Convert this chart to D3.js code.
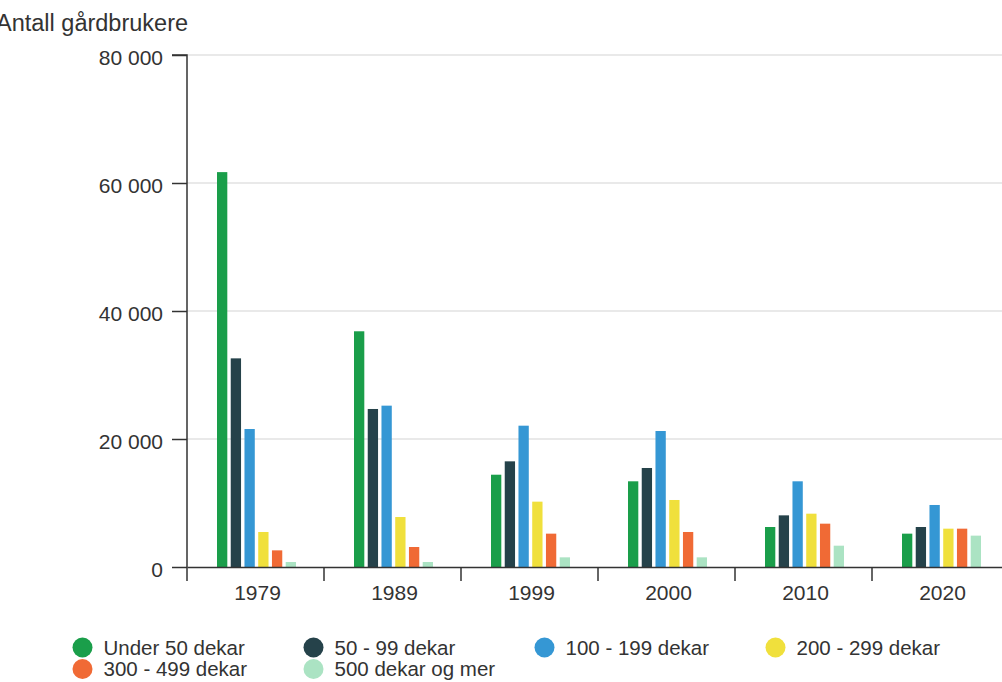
<!DOCTYPE html>
<html><head><meta charset="utf-8">
<script src="https://cdn.jsdelivr.net/npm/d3@7"></script>
<style>
html,body{margin:0;padding:0;background:#fff;overflow:hidden}
svg{display:block;font-family:"Liberation Sans",Arial,sans-serif}
</style></head><body>
<svg id="chart" width="1002" height="682"></svg>
<script>
const years = ["1979","1989","1999","2000","2010","2020"];
const seriesNames = ["Under 50 dekar","50 - 99 dekar","100 - 199 dekar","200 - 299 dekar","300 - 499 dekar","500 dekar og mer"];
const seriesColors = ["#1a9e4a","#25424a","#3597d4","#f0e03c","#f06a35","#abe3c3"];
const under50  = [61700, 36830, 14420, 13390, 6250, 5210];
const d50_99   = [32600, 24690, 16510, 15470, 8070, 6250];
const d100_199 = [21560, 25210, 22080, 21250, 13390, 9690];
const d200_299 = [5470, 7810, 10210, 10470, 8330, 5990];
const d300_499 = [2600, 3125, 5210, 5470, 6770, 5990];
const d500     = [780, 780, 1510, 1510, 3330, 4900];
const yTicks = [0, 20000, 40000, 60000, 80000];
const yTitle = "Antall gårdbrukere";

(function () {
const values = [under50, d50_99, d100_199, d200_299, d300_499, d500];
const svg = d3.select("#chart");
const mLeft = 187, mRight = 1009, mTop = 55, mBottom = 567;
const FONT = "Liberation Sans, Arial, sans-serif";

const x = d3.scaleBand().domain(years).range([mLeft, mRight]).paddingInner(0).paddingOuter(0);
const x1 = d3.scaleBand().domain(d3.range(seriesNames.length)).range([30, x.bandwidth() - 28]).paddingInner(0.25).paddingOuter(0);
const y = d3.scaleLinear().domain([0, 80000]).range([mBottom, mTop]);

const fmt = v => d3.format(",")(v).replace(/,/g, " ");

// gridlines
svg.append("g").selectAll("line").data(yTicks.filter(d => d > 0)).join("line")
  .attr("x1", mLeft).attr("x2", 1002).attr("y1", d => y(d)).attr("y2", d => y(d))
  .attr("stroke", "#e2e2e2").attr("stroke-width", 1.5);

// y axis
const yAxis = svg.append("g").attr("transform", `translate(${mLeft},0)`)
  .call(d3.axisLeft(y).tickValues(yTicks).tickFormat(fmt).tickSize(15).tickPadding(9));
yAxis.select(".domain").attr("stroke", "#333").attr("stroke-width", 1.5).attr("d", `M-15,${mTop}H0V${mBottom}`);
yAxis.selectAll(".tick line").attr("stroke", "#333").attr("stroke-width", 1.5);
yAxis.selectAll(".tick text").attr("font-size", 21).attr("fill", "#333").attr("font-family", FONT).attr("dy", "0.47em");

// bars
const groups = svg.append("g").selectAll("g").data(years).join("g")
  .attr("transform", d => `translate(${x(d)},0)`);
groups.selectAll("rect").data((d, i) => values.map((s, k) => ({k, v: s[i]}))).join("rect")
  .attr("x", d => x1(d.k)).attr("width", x1.bandwidth())
  .attr("y", d => y(d.v)).attr("height", d => y(0) - y(d.v))
  .attr("fill", d => seriesColors[d.k]);

// x axis
const xAxis = svg.append("g").attr("transform", `translate(0,${mBottom})`)
  .call(d3.axisBottom(x).tickSize(0).tickPadding(18));
xAxis.select(".domain").attr("stroke", "#333").attr("stroke-width", 1.5);
xAxis.selectAll(".tick text").attr("font-size", 21).attr("fill", "#333").attr("font-family", FONT).attr("dx", 2);
xAxis.selectAll(".tick line").remove();
svg.append("g").selectAll("line").data(years.map(d => x(d)).concat([x(years[years.length-1]) + x.bandwidth()])).join("line")
  .attr("x1", d => d).attr("x2", d => d).attr("y1", mBottom).attr("y2", mBottom + 14)
  .attr("stroke", "#333").attr("stroke-width", 1.5);

// y title
svg.append("text").attr("x", -4).attr("y", 31).attr("font-size", 23.5).attr("fill", "#333").attr("font-family", FONT).text(yTitle);

// legend
const lg = svg.append("g").selectAll("g").data(seriesNames).join("g")
  .attr("transform", (d, i) => `translate(${82.5 + (i % 4) * 231},${647.5 + Math.floor(i / 4) * 21.5})`);
lg.append("circle").attr("r", 10).attr("fill", (d, i) => seriesColors[i]);
lg.append("text").attr("x", 21).attr("dy", "0.35em").attr("font-size", 20.5).attr("fill", "#333").attr("font-family", FONT).text(d => d);
})();
</script>
</body></html>
